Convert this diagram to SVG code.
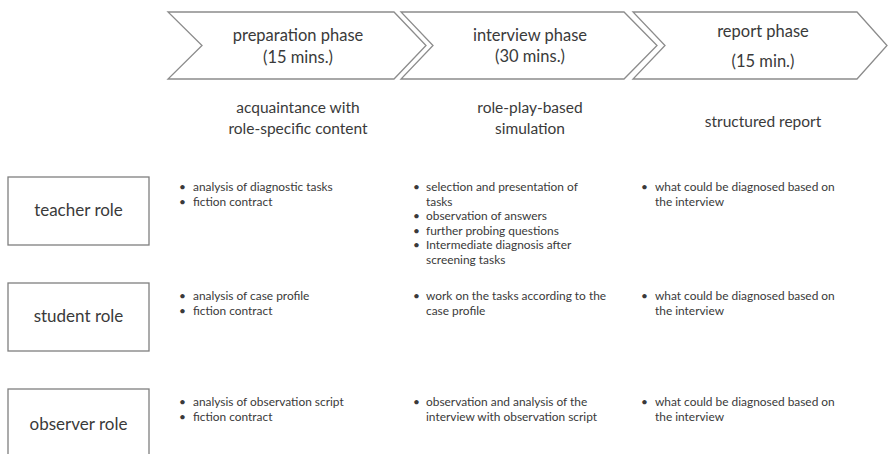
<svg xmlns="http://www.w3.org/2000/svg" width="889" height="454" viewBox="0 0 889 454">
  <style>
    .chev { fill: #ffffff; stroke: #8c8c8c; stroke-width: 1.3; }
    .role { fill: #ffffff; stroke: #7f7f7f; stroke-width: 1.3; }
    .head { font-family: Lato, "Liberation Sans", sans-serif; font-size: 16.5px; fill: #3a3a3a; text-anchor: middle; }
    .sub { font-family: Lato, "Liberation Sans", sans-serif; font-size: 15.5px; fill: #3a3a3a; text-anchor: middle; }
    .lbl { font-family: Lato, "Liberation Sans", sans-serif; font-size: 17px; fill: #3a3a3a; text-anchor: middle; }
    .item { font-family: Lato, "Liberation Sans", sans-serif; font-size: 11.9px; fill: #3a3a3a; }
  </style>
  <rect width="889" height="454" fill="#ffffff"/>

  <!-- phase chevrons -->
  <g id="phase-preparation">
    <polygon class="chev" points="168,12 394,12 426,45.5 394,79 168,79 202,45.5"/>
    <text class="head" x="298" y="41">preparation phase</text>
    <text class="head" x="298" y="63">(15 mins.)</text>
  </g>
  <g id="phase-interview">
    <polygon class="chev" points="401,12 624,12 657,45.5 624,79 401,79 433,45.5"/>
    <text class="head" x="530" y="41">interview phase</text>
    <text class="head" x="530" y="62">(30 mins.)</text>
  </g>
  <g id="phase-report">
    <polygon class="chev" points="633,12 857,12 887,45.5 857,79 633,79 665,45.5"/>
    <text class="head" x="763" y="37">report phase</text>
    <text class="head" x="763" y="67">(15 min.)</text>
  </g>

  <!-- column headings -->
  <g id="heading-preparation">
    <text class="sub" x="298" y="113">acquaintance with</text>
    <text class="sub" x="298" y="134">role-specific content</text>
  </g>
  <g id="heading-interview">
    <text class="sub" x="530" y="113">role-play-based</text>
    <text class="sub" x="530" y="134">simulation</text>
  </g>
  <g id="heading-report">
    <text class="sub" x="763" y="127">structured report</text>
  </g>

  <!-- role boxes -->
  <g id="role-teacher">
    <rect class="role" x="8" y="177" width="141" height="68"/>
    <text class="lbl" x="78.5" y="216">teacher role</text>
  </g>
  <g id="role-student">
    <rect class="role" x="8" y="283" width="141" height="68"/>
    <text class="lbl" x="78.5" y="322">student role</text>
  </g>
  <g id="role-observer">
    <rect class="role" x="8" y="389" width="141" height="80"/>
    <text class="lbl" x="78.5" y="430">observer role</text>
  </g>

  <!-- task lists: teacher row -->
  <g id="teacher-preparation" class="item">
    <text x="179" y="191">•</text><text x="193" y="191">analysis of diagnostic tasks</text>
    <text x="179" y="205.5">•</text><text x="193" y="205.5">fiction contract</text>
  </g>
  <g id="teacher-interview" class="item">
    <text x="413" y="191">•</text><text x="426" y="191">selection and presentation of</text>
    <text x="426" y="205.5">tasks</text>
    <text x="413" y="220">•</text><text x="426" y="220">observation of answers</text>
    <text x="413" y="234.5">•</text><text x="426" y="234.5">further probing questions</text>
    <text x="413" y="249">•</text><text x="426" y="249">Intermediate diagnosis after</text>
    <text x="426" y="263.5">screening tasks</text>
  </g>
  <g id="teacher-report" class="item">
    <text x="641" y="191">•</text><text x="655" y="191">what could be diagnosed based on</text>
    <text x="655" y="205.5">the interview</text>
  </g>

  <!-- task lists: student row -->
  <g id="student-preparation" class="item">
    <text x="179" y="300">•</text><text x="193" y="300">analysis of case profile</text>
    <text x="179" y="314.5">•</text><text x="193" y="314.5">fiction contract</text>
  </g>
  <g id="student-interview" class="item">
    <text x="413" y="300">•</text><text x="426" y="300">work on the tasks according to the</text>
    <text x="426" y="314.5">case profile</text>
  </g>
  <g id="student-report" class="item">
    <text x="641" y="300">•</text><text x="655" y="300">what could be diagnosed based on</text>
    <text x="655" y="314.5">the interview</text>
  </g>

  <!-- task lists: observer row -->
  <g id="observer-preparation" class="item">
    <text x="179" y="406">•</text><text x="193" y="406">analysis of observation script</text>
    <text x="179" y="420.5">•</text><text x="193" y="420.5">fiction contract</text>
  </g>
  <g id="observer-interview" class="item">
    <text x="413" y="406">•</text><text x="426" y="406">observation and analysis of the</text>
    <text x="426" y="420.5">interview with observation script</text>
  </g>
  <g id="observer-report" class="item">
    <text x="641" y="406">•</text><text x="655" y="406">what could be diagnosed based on</text>
    <text x="655" y="420.5">the interview</text>
  </g>

  <g id="connectors"/>
</svg>
